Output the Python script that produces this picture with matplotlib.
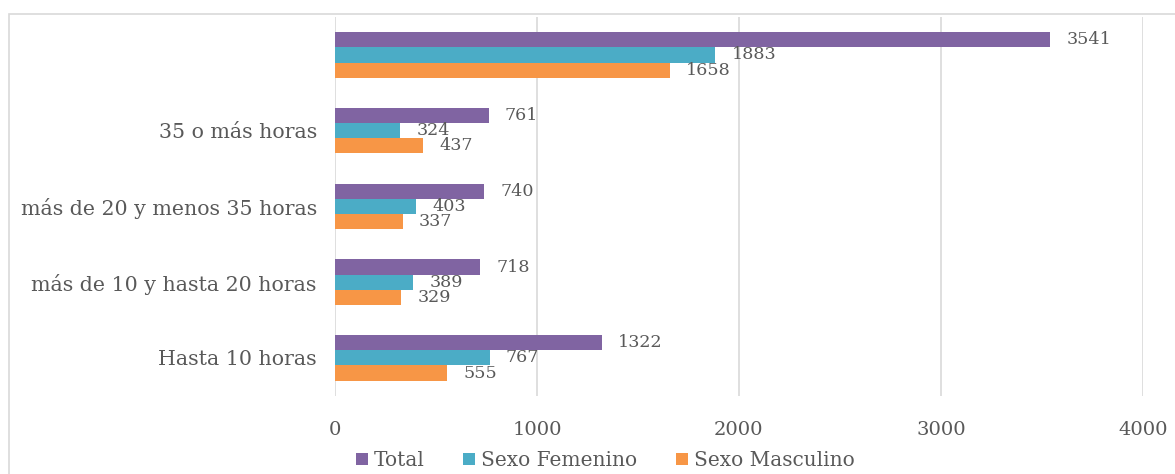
import numpy as np
import matplotlib
matplotlib.use("Agg")
import matplotlib.pyplot as plt
from matplotlib.patches import Rectangle

categorias = ["Hasta 10 horas", "más de 10 y hasta 20 horas",
              "más de 20 y menos 35 horas", "35 o más horas", ""]
total = [1322, 718, 740, 761, 3541]
femenino = [767, 389, 403, 324, 1883]
masculino = [555, 329, 337, 437, 1658]
series = ["Total", "Sexo Femenino", "Sexo Masculino"]
colores = ["#8064A2", "#4BACC6", "#F79646"]
texto = "#595959"

plt.rcParams['font.family'] = ['DejaVu Serif']

fig = plt.figure(figsize=(11.75, 4.74), dpi=100)
ax = fig.add_axes([0.285, 0.165, 0.6877, 0.799])

y = np.arange(len(categorias))
h = 0.2
valores = [total, femenino, masculino]
for i, (vals, nombre, col) in enumerate(zip(valores, series, colores)):
    pos = y + h - i * h
    barras = ax.barh(pos, vals, height=h, color=col, label=nombre, zorder=3)
    for b, v in zip(barras, vals):
        ax.text(b.get_width() + 80, b.get_y() + h / 2, str(v), va='center', ha='left',
                fontsize=12.6, color=texto)

ax.set_xlim(0, 4000)
ax.set_ylim(-0.5, 4.5)
ax.set_xticks([0, 1000, 2000, 3000, 4000])
ax.set_yticks(y)
ax.set_yticklabels(categorias, fontsize=14.8)
ax.tick_params(axis='both', length=0, colors=texto)
ax.tick_params(axis='x', pad=18, labelsize=14)
ax.tick_params(axis='y', pad=13)
ax.grid(axis='x', color='#D9D9D9', linewidth=1.2, zorder=0)
for s in ax.spines.values():
    s.set_visible(False)

# borde del gráfico
fig.patches.append(Rectangle((9 / 1175, -0.01), 1.2, 1 - 14 / 474 + 0.01,
                             transform=fig.transFigure, fill=False,
                             edgecolor='#D9D9D9', linewidth=1.2))

leg = fig.legend(loc='lower center', bbox_to_anchor=(0.515, -0.03), ncol=3,
                 frameon=False, fontsize=14.5, handlelength=0.6, handleheight=0.6,
                 handletextpad=0.3, columnspacing=1.9)
for t in leg.get_texts():
    t.set_color(texto)

fig.savefig("out.png", dpi=100)
